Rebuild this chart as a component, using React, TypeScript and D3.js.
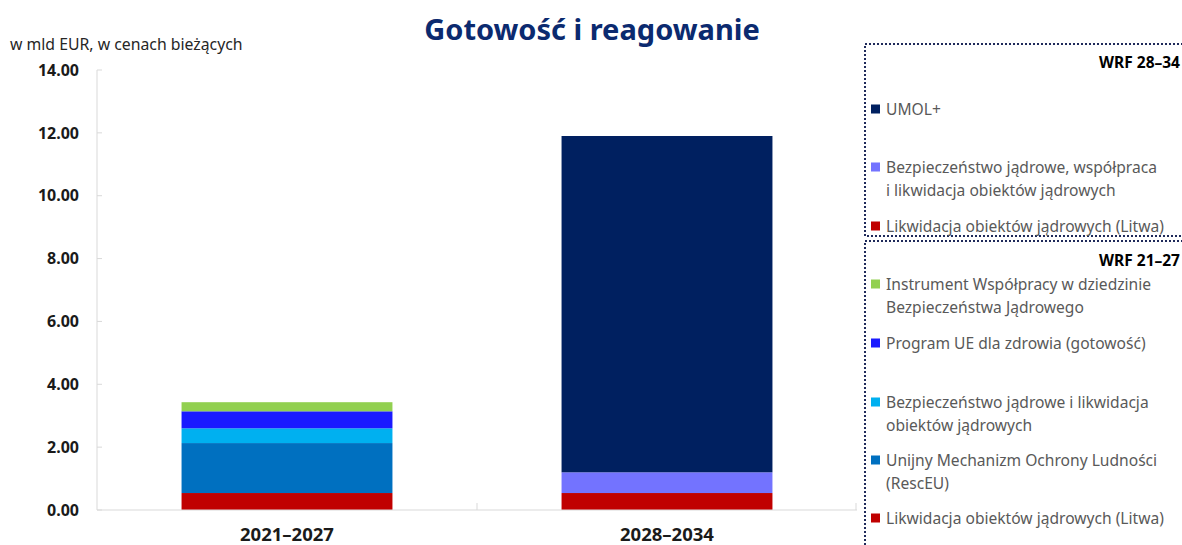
import React from "react";
import * as d3 from "d3";

const categories = ["2021–2027", "2028–2034"];

const seriesNames = [
  "Likwidacja obiektów jądrowych (Litwa)",
  "Unijny Mechanizm Ochrony Ludności (RescEU)",
  "Bezpieczeństwo jądrowe i likwidacja obiektów jądrowych",
  "Program UE dla zdrowia (gotowość)",
  "Instrument Współpracy w dziedzinie Bezpieczeństwa Jądrowego",
  "Bezpieczeństwo jądrowe, współpraca i likwidacja obiektów jądrowych",
  "UMOL+",
];
const seriesColors = ["#C00000", "#0070C0", "#00B0F0", "#1A1AFF", "#92D050", "#7373FF", "#002060"];
// values per series: [2021–2027, 2028–2034]
const seriesValues = [
  [0.54, 0.54],
  [1.59, 0],
  [0.47, 0],
  [0.54, 0],
  [0.29, 0],
  [0, 0.66],
  [0, 10.7],
];

const yTicks = [0, 2, 4, 6, 8, 10, 12, 14];

const legendGroups = [
  {
    title: "WRF 28–34",
    items: [
      { s: 6, lines: ["UMOL+"] },
      { s: 5, lines: ["Bezpieczeństwo jądrowe, współpraca", "i likwidacja obiektów jądrowych"] },
      { s: 0, lines: ["Likwidacja obiektów jądrowych (Litwa)"] },
    ],
  },
  {
    title: "WRF 21–27",
    items: [
      { s: 4, lines: ["Instrument Współpracy w dziedzinie", "Bezpieczeństwa Jądrowego"] },
      { s: 3, lines: ["Program UE dla zdrowia (gotowość)"] },
      { s: 2, lines: ["Bezpieczeństwo jądrowe i likwidacja", "obiektów jądrowych"] },
      { s: 1, lines: ["Unijny Mechanizm Ochrony Ludności", "(RescEU)"] },
      { s: 0, lines: ["Likwidacja obiektów jądrowych (Litwa)"] },
    ],
  },
];

export default function App() {
  const W = 1182;
  const H = 545;
  const left = 97;
  const right = 857;
  const y0 = 510;
  const yTop = 70;

  const x = d3.scaleBand<string>().domain(categories).range([left, right]).paddingInner(0.445).paddingOuter(0.2225);
  const y = d3.scaleLinear().domain([0, 14]).range([y0, yTop]);

  const rows = categories.map((c, i) => {
    const r: any = { cat: c };
    seriesNames.forEach((n, k) => (r[n] = seriesValues[k][i]));
    return r;
  });
  const stack = d3.stack<any>().keys(seriesNames)(rows);

  const font = "'Noto Sans', sans-serif";
  const legendText = "#595959";

  // legend layout (item centre y positions)
  const legendLayout = [
    { top: 44, bottom: 236, titleY: 62, itemY: [109, 167, 226] },
    { top: 241, bottom: 560, titleY: 260, itemY: [284, 343, 402, 460, 518] },
  ];
  const lineGap = 23;

  return (
    <svg width={W} height={H} style={{ position: "absolute", left: 0, top: 0 }} fontFamily={font}>
      <rect width={W} height={H} fill="#fff" />
      <text x={592} y={40} textAnchor="middle" fontSize={29} fontWeight={700} fill="#0b2a6f">
        Gotowość i reagowanie
      </text>
      <text x={10} y={50} fontSize={15.8} fill="#262626">
        w mld EUR, w cenach bieżących
      </text>

      {/* y axis */}
      <line x1={left} x2={left} y1={yTop} y2={y0} stroke="#d9d9d9" strokeWidth={1} />
      {yTicks.map((t) => (
        <g key={t}>
          <line x1={left} x2={left + 5} y1={y(t)} y2={y(t)} stroke="#d9d9d9" />
          <text x={79} y={y(t)} dy="0.36em" textAnchor="end" fontSize={16} fontWeight={700} fill="#1a1a1a">
            {d3.format(".2f")(t)}
          </text>
        </g>
      ))}

      {/* bars */}
      {stack.map((layer, k) => (
        <g key={layer.key} fill={seriesColors[k]}>
          {layer.map((d, i) =>
            d[1] - d[0] > 0 ? (
              <rect
                key={i}
                x={x(categories[i])}
                width={x.bandwidth()}
                y={y(d[1])}
                height={y(d[0]) - y(d[1])}
              />
            ) : null
          )}
        </g>
      ))}

      {/* x axis */}
      <line x1={left} x2={right} y1={y0} y2={y0} stroke="#d9d9d9" strokeWidth={1.2} />
      {[left + x.step(), right - 1].map((tx, i) => (
        <line key={i} x1={tx} x2={tx} y1={y0} y2={y0 - 7} stroke="#d9d9d9" />
      ))}
      {categories.map((c) => (
        <text key={c} x={(x(c) as number) + x.bandwidth() / 2} y={541} textAnchor="middle" fontSize={18.5} fontWeight={700} fill="#1a1a1a">
          {c}
        </text>
      ))}

      {/* legend */}
      {legendGroups.map((g, gi) => {
        const L = legendLayout[gi];
        return (
          <g key={g.title}>
            <path
              d={`M${W + 5},${L.top} H865 V${L.bottom} H${W + 5}`}
              fill="none"
              stroke="#1f2a5a"
              strokeWidth={2}
              strokeDasharray="2 2"
            />
            <text x={1180} y={L.titleY} dy="0.36em" textAnchor="end" fontSize={15.5} fontWeight={700} fill="#000">
              {g.title}
            </text>
            {g.items.map((it, ii) => {
              const cy = L.itemY[ii];
              return (
                <g key={ii}>
                  <rect x={871} y={cy - 4.5} width={9} height={9} fill={seriesColors[it.s]} />
                  {it.lines.map((ln, li) => (
                    <text key={li} x={886} y={cy + li * lineGap} dy="0.36em" fontSize={15.6} fill={legendText}>
                      {ln}
                    </text>
                  ))}
                </g>
              );
            })}
          </g>
        );
      })}
    </svg>
  );
}
